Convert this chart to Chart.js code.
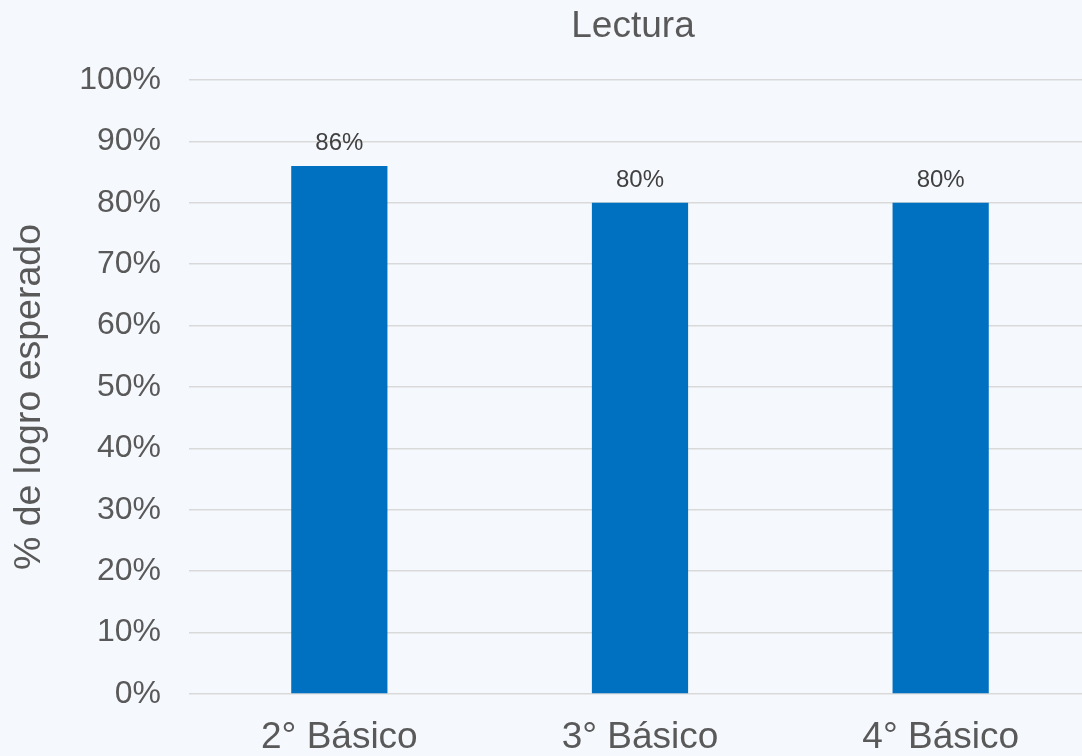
<!DOCTYPE html>
<html>
<head>
<meta charset="utf-8">
<script src="https://cdn.jsdelivr.net/npm/chart.js@4"></script>
<style>
html,body{margin:0;padding:0;background:#f5f8fc;overflow:hidden;}
#wrap{width:1100px;height:756px;}
</style>
</head>
<body>
<div id="wrap"><canvas id="c" width="1100" height="756"></canvas></div>
<script>
const chartTitle = "Lectura";
const yAxisTitle = "% de logro esperado";
const categories = ["2° Básico", "3° Básico", "4° Básico"];
const lectura = [86, 80, 80];
const yTickValues = [0, 10, 20, 30, 40, 50, 60, 70, 80, 90, 100];

const FONT = '"Liberation Sans", Arial, sans-serif';
const TXT = '#595959';

const dataLabels = {
  id: 'dataLabels',
  afterDatasetsDraw(chart) {
    const ctx = chart.ctx;
    ctx.save();
    ctx.font = '24px ' + FONT;
    ctx.fillStyle = '#404040';
    ctx.textAlign = 'center';
    ctx.textBaseline = 'alphabetic';
    chart.getDatasetMeta(0).data.forEach((el, i) => {
      ctx.fillText(chart.data.datasets[0].data[i] + '%', el.x, el.y - 16);
    });
    ctx.restore();
  }
};

const titles = {
  id: 'titles',
  afterDraw(chart) {
    const ctx = chart.ctx;
    const a = chart.chartArea;
    ctx.save();
    ctx.fillStyle = TXT;
    ctx.textAlign = 'center';
    ctx.textBaseline = 'alphabetic';
    ctx.font = '37px ' + FONT;
    ctx.fillText(chartTitle, (a.left + a.right) / 2 - 7, 37);
    ctx.translate(30, (a.top + a.bottom) / 2 + 10);
    ctx.rotate(-Math.PI / 2);
    ctx.textBaseline = 'middle';
    ctx.font = '37.5px ' + FONT;
    ctx.fillText(yAxisTitle, 0, 0);
    ctx.restore();
  }
};

new Chart(document.getElementById('c'), {
  type: 'bar',
  data: {
    labels: categories,
    datasets: [{
      label: chartTitle,
      data: lectura,
      backgroundColor: '#0070c0',
      borderWidth: 0,
      barPercentage: 0.32,
      categoryPercentage: 1.0
    }]
  },
  options: {
    responsive: false,
    animation: false,
    devicePixelRatio: 1,
    layout: { padding: { left: 0, right: 9, top: 80, bottom: 0 } },
    plugins: {
      legend: { display: false },
      tooltip: { enabled: false },
      title: { display: false }
    },
    scales: {
      x: {
        grid: { display: false, drawTicks: false },
        border: { display: false },
        ticks: { color: TXT, font: { family: FONT, size: 37 }, padding: 22, maxRotation: 0 },
        afterFit(axis) { axis.height = 62; }
      },
      y: {
        min: 0, max: 100,
        afterBuildTicks(axis) { axis.ticks = yTickValues.map(v => ({ value: v })); },
        grid: { color: '#d9d9d9', lineWidth: 1.5, drawTicks: false },
        border: { display: false },
        ticks: { color: TXT, font: { family: FONT, size: 32 }, padding: 28, callback: v => v + '%' },
        title: { display: false },
        afterFit(axis) { axis.width = 189; }
      }
    }
  },
  plugins: [dataLabels, titles]
});
</script>
</body>
</html>
